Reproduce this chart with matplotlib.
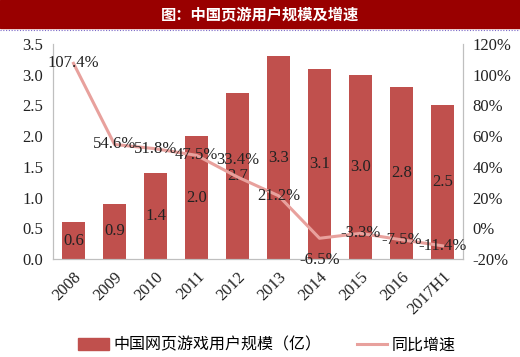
import matplotlib
matplotlib.use("Agg")
import matplotlib.pyplot as plt
import numpy as np
from matplotlib.lines import Line2D
from matplotlib.patches import Patch

plt.rcParams['font.family'] = ['Liberation Serif', 'Noto Sans CJK SC']

years = ["2008", "2009", "2010", "2011", "2012", "2013", "2014", "2015", "2016", "2017H1"]
users = [0.6, 0.9, 1.4, 2.0, 2.7, 3.3, 3.1, 3.0, 2.8, 2.5]
growth = [107.4, 54.6, 51.8, 47.5, 33.4, 21.2, -6.5, -3.3, -7.5, -11.4]
growth_label_dy = [0, 0, 0, 0, 12, 0, -16, 0, 0, 0]

bar_color = "#C0504D"
line_color = "#E8A19D"
spine_color = "#BFBFBF"

fig = plt.figure(figsize=(5.2, 3.57), dpi=100)

# title bar
fig.patches.append(plt.Rectangle((0, 1 - 28 / 357), 1, 28 / 357, transform=fig.transFigure,
                                 color="#990000", zorder=0))
fig.text(0.5, 1 - 14 / 357, "图：中国页游用户规模及增速", color="white", fontsize=11,
         fontweight="bold", ha="center", va="center", family=["Noto Sans CJK SC"])
fig.add_artist(Line2D([0, 1], [1 - 30 / 357, 1 - 30 / 357], transform=fig.transFigure,
                      color="#7B68C8", lw=0.8, ls=(0, (1, 1.5))))

ax = fig.add_axes([53 / 520, 1 - 259 / 357, 410 / 520, 215 / 357])
ax2 = ax.twinx()

x = np.arange(len(years))
ax.bar(x, users, width=0.55, color=bar_color, zorder=2)
for i, v in enumerate(users):
    ax.text(i, v / 2, f"{v:.1f}", ha="center", va="center", fontsize=12, color="#222222", zorder=5)

ax.set_xlim(-0.5, len(years) - 0.5)
ax.set_ylim(0, 3.5)
ax.set_yticks(np.arange(0, 3.51, 0.5))
ax.set_yticklabels([f"{t:.1f}" for t in np.arange(0, 3.51, 0.5)])
ax.set_xticks(x)
ax.set_xticklabels(years, rotation=45, ha="right", rotation_mode="anchor")
ax.tick_params(length=0, labelsize=12, colors="#222222", pad=7)

ax2.plot(x, growth, color=line_color, lw=2.2, zorder=3)
ax2.set_ylim(-20, 120)
ax2.set_yticks(range(-20, 121, 20))
ax2.set_yticklabels([f"{t}%" for t in range(-20, 121, 20)])
ax2.tick_params(length=0, labelsize=12, colors="#222222", pad=7)
for i, v in enumerate(growth):
    ax2.annotate(f"{v}%", (i, v), xytext=(0, growth_label_dy[i]), textcoords="offset points",
                 ha="center", va="center", fontsize=12, color="#222222", zorder=6)

for a in (ax, ax2):
    a.spines["top"].set_visible(False)
    for s in ("left", "right", "bottom"):
        a.spines[s].set_color(spine_color)
ax.set_zorder(ax2.get_zorder() - 1)
ax.patch.set_visible(True)
ax2.patch.set_visible(False)

handles = [Patch(color=bar_color), Line2D([0], [0], color=line_color, lw=2.2)]
labels = ["中国网页游戏用户规模（亿）", "同比增速"]
fig.legend(handles, labels, loc="center", bbox_to_anchor=(267 / 520, 1 - 345 / 357), ncol=2,
           frameon=False, columnspacing=2.2, handlelength=1.9, handletextpad=0.3,
           prop={"family": ["Noto Sans CJK SC"], "size": 11.5})

fig.savefig("out.png", dpi=100)
